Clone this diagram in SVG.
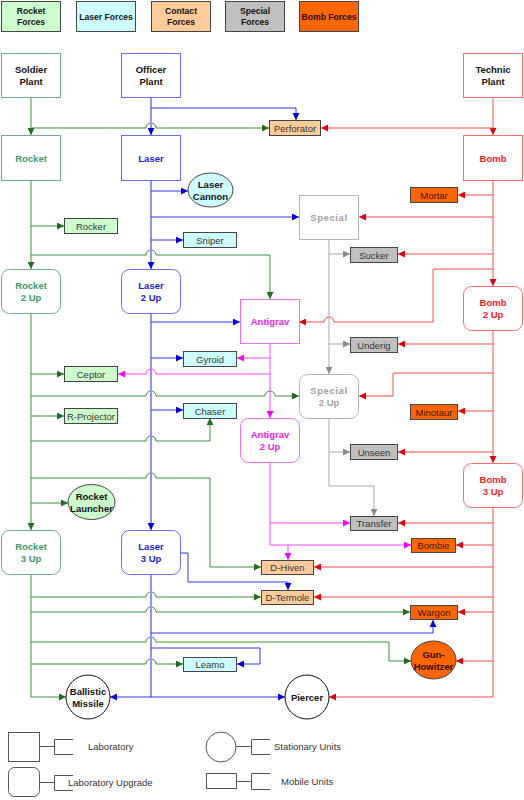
<svg xmlns="http://www.w3.org/2000/svg" width="524" height="800" viewBox="0 0 524 800">
<style>
.t{font-family:"Liberation Sans",Arial,sans-serif;font-size:9.5px;font-weight:bold;text-anchor:middle}
.s{font-family:"Liberation Sans",Arial,sans-serif;font-size:9.5px;text-anchor:middle;fill:#333}
.l{font-family:"Liberation Sans",Arial,sans-serif;font-size:9.5px;fill:#333}
.lg{font-family:"Liberation Sans",Arial,sans-serif;font-size:8.6px;font-weight:bold;text-anchor:middle;fill:#111}
.ro{fill:#fff;stroke:#6fa98e;stroke-width:1}
.la{fill:#fff;stroke:#6b6bee;stroke-width:1}
.bo{fill:#fff;stroke:#ff6b6b;stroke-width:1}
.sp{fill:#fff;stroke:#b4b4b4;stroke-width:1}
.ag{fill:#fff;stroke:#f070f0;stroke-width:1}
.tro{fill:#3a9a6a}.tla{fill:#1a1acc}.tbo{fill:#ee1c25}.tsp{fill:#a0a0a0}.tag{fill:#ee22ee}.tbk{fill:#111}
.u{stroke:#444;stroke-width:1}
.cg{fill:#ccffcc}.cc{fill:#ccffff}.co{fill:#ffcc99}.cs{fill:#c0c0c0}.cb{fill:#ff6600}
.w{fill:#fff;stroke:#111;stroke-width:1}
.k{fill:none;stroke:#555;stroke-width:1}
#connectors path{fill:none;stroke-width:1}
.g{stroke:#3d8f3d}.b{stroke:#3535ee}.bt{stroke:#9090ff;stroke-width:2!important}.r{stroke:#ff4a4a}.m{stroke:#ff44ff}.y{stroke:#a8a8a8}
</style>
<defs>
<marker id="mg" viewBox="0 0 10 10" refX="10" refY="5" markerWidth="7" markerHeight="7" markerUnits="userSpaceOnUse" orient="auto"><path d="M0,0L10,5L0,10z" fill="#1f6f1f"/></marker>
<marker id="mb" viewBox="0 0 10 10" refX="10" refY="5" markerWidth="7" markerHeight="7" markerUnits="userSpaceOnUse" orient="auto"><path d="M0,0L10,5L0,10z" fill="#0000dd"/></marker>
<marker id="mr" viewBox="0 0 10 10" refX="10" refY="5" markerWidth="7" markerHeight="7" markerUnits="userSpaceOnUse" orient="auto"><path d="M0,0L10,5L0,10z" fill="#e00010"/></marker>
<marker id="mm" viewBox="0 0 10 10" refX="10" refY="5" markerWidth="7" markerHeight="7" markerUnits="userSpaceOnUse" orient="auto"><path d="M0,0L10,5L0,10z" fill="#ff00ff"/></marker>
<marker id="mk" viewBox="0 0 10 10" refX="10" refY="5" markerWidth="7" markerHeight="7" markerUnits="userSpaceOnUse" orient="auto"><path d="M0,0L10,5L0,10z" fill="#8a8a8a"/></marker>
</defs>
<rect width="524" height="800" fill="#fff"/>

<g id="legend-top">
<rect x="1.5" y="1.5" width="59" height="30" class="u cg"/><text class="lg" x="31" y="14">Rocket</text><text class="lg" x="31" y="25">Forces</text>
<rect x="76.5" y="1.5" width="59" height="30" class="u cc"/><text class="lg" x="106" y="19.5">Laser Forces</text>
<rect x="151.5" y="1.5" width="59" height="30" class="u co"/><text class="lg" x="181" y="14">Contact</text><text class="lg" x="181" y="25">Forces</text>
<rect x="225.5" y="1.5" width="59" height="30" class="u cs"/><text class="lg" x="255" y="14">Special</text><text class="lg" x="255" y="25">Forces</text>
<rect x="299.5" y="1.5" width="59" height="30" class="u cb"/><text class="lg" x="329" y="19.5" style="fill:#2a0a00">Bomb Forces</text>
</g>

<g id="connectors">
<!-- green -->
<path class="g" d="M31,98V135" marker-end="url(#mg)"/>
<path class="g" d="M31,128H146a5,5 0 0 1 10,0H269" marker-end="url(#mg)"/>
<path class="g" d="M31,181V269" marker-end="url(#mg)"/>
<path class="g" d="M31,226H64" marker-end="url(#mg)"/>
<path class="g" d="M31,255H146a5,5 0 0 1 10,0H270V299" marker-end="url(#mg)"/>
<path class="g" d="M31,314V530" marker-end="url(#mg)"/>
<path class="g" d="M31,374H64" marker-end="url(#mg)"/>
<path class="g" d="M31,396H146a5,5 0 0 1 10,0H265a5,5 0 0 1 10,0H299" marker-end="url(#mg)"/>
<path class="g" d="M31,416H64" marker-end="url(#mg)"/>
<path class="g" d="M31,441H146a5,5 0 0 1 10,0H210V418" marker-end="url(#mg)"/>
<path class="g" d="M31,478H146a5,5 0 0 1 10,0H210V567H261" marker-end="url(#mg)"/>
<path class="g" d="M31,503H68" marker-end="url(#mg)"/>
<path class="g" d="M31,575V697H66" marker-end="url(#mg)"/>
<path class="g" d="M31,597H146a5,5 0 0 1 10,0H261" marker-end="url(#mg)"/>
<path class="g" d="M31,612H146a5,5 0 0 1 10,0H410" marker-end="url(#mg)"/>
<path class="g" d="M31,642H146a5,5 0 0 1 10,0H389V661H411" marker-end="url(#mg)"/>
<path class="g" d="M31,664H146a5,5 0 0 1 10,0H183" marker-end="url(#mg)"/>
<!-- blue -->
<path class="b bt" d="M151,98V135" marker-end="url(#mb)"/>
<path class="b bt" d="M151,181V269" marker-end="url(#mb)"/>
<path class="b bt" d="M151,314V530" marker-end="url(#mb)"/>
<path class="b bt" d="M151,575V697"/>
<path class="b" d="M151,108H296V120" marker-end="url(#mb)"/>
<path class="b" d="M151,191H188" marker-end="url(#mb)"/>
<path class="b" d="M151,217H299" marker-end="url(#mb)"/>
<path class="b" d="M151,240H183" marker-end="url(#mb)"/>
<path class="b" d="M151,322H240" marker-end="url(#mb)"/>
<path class="b" d="M151,358H183" marker-end="url(#mb)"/>
<path class="b" d="M151,410H183" marker-end="url(#mb)"/>
<path class="b" d="M181,553H188V582H288V590" marker-end="url(#mb)"/>
<path class="b" d="M151,633H433V620" marker-end="url(#mb)"/>
<path class="b" d="M151,648H260V664H237" marker-end="url(#mb)"/>
<path class="b" d="M151,697H110" marker-end="url(#mb)"/>
<path class="b" d="M151,697H285" marker-end="url(#mb)"/>
<!-- red -->
<path class="r" d="M493,98V135" marker-end="url(#mr)"/>
<path class="r" d="M493,128H321" marker-end="url(#mr)"/>
<path class="r" d="M493,181V286" marker-end="url(#mr)"/>
<path class="r" d="M493,195H458" marker-end="url(#mr)"/>
<path class="r" d="M493,217H359" marker-end="url(#mr)"/>
<path class="r" d="M493,254H398" marker-end="url(#mr)"/>
<path class="r" d="M493,269H433V322H334a5,5 0 0 0 -10,0H299" marker-end="url(#mr)"/>
<path class="r" d="M493,330V463" marker-end="url(#mr)"/>
<path class="r" d="M493,344H398" marker-end="url(#mr)"/>
<path class="r" d="M493,373H393V396H359" marker-end="url(#mr)"/>
<path class="r" d="M493,411H458" marker-end="url(#mr)"/>
<path class="r" d="M493,452H398" marker-end="url(#mr)"/>
<path class="r" d="M493,508V697H329" marker-end="url(#mr)"/>
<path class="r" d="M493,523H398" marker-end="url(#mr)"/>
<path class="r" d="M493,545H456" marker-end="url(#mr)"/>
<path class="r" d="M493,567H314" marker-end="url(#mr)"/>
<path class="r" d="M493,597H314" marker-end="url(#mr)"/>
<path class="r" d="M493,612H458" marker-end="url(#mr)"/>
<path class="r" d="M493,661H456" marker-end="url(#mr)"/>
<!-- gray -->
<path class="y" d="M329,240V374" marker-end="url(#mk)"/>
<path class="y" d="M329,254H350" marker-end="url(#mk)"/>
<path class="y" d="M329,344H350" marker-end="url(#mk)"/>
<path class="y" d="M329,418V486H374V516" marker-end="url(#mk)"/>
<path class="y" d="M329,452H350" marker-end="url(#mk)"/>
<!-- magenta -->
<path class="m" d="M270,344V418" marker-end="url(#mm)"/>
<path class="m" d="M270,358H237" marker-end="url(#mm)"/>
<path class="m" d="M270,374H156a5,5 0 0 0 -10,0H118" marker-end="url(#mm)"/>
<path class="m" d="M270,463V545H411" marker-end="url(#mm)"/>
<path class="m" d="M270,523H350" marker-end="url(#mm)"/>
<path class="m" d="M288,545V560" marker-end="url(#mm)"/>
</g>

<g id="soldier-plant"><rect x="1.5" y="53.5" width="59" height="44" class="ro"/><text class="t tbk" x="31" y="73">Soldier</text><text class="t tbk" x="31" y="85">Plant</text></g>
<g id="officer-plant"><rect x="121.5" y="53.5" width="59" height="44" class="la"/><text class="t tbk" x="151" y="73">Officer</text><text class="t tbk" x="151" y="85">Plant</text></g>
<g id="technic-plant"><rect x="463.5" y="53.5" width="59" height="44" class="bo"/><text class="t tbk" x="493" y="73">Technic</text><text class="t tbk" x="493" y="85">Plant</text></g>

<g id="rocket"><rect x="1.5" y="135.5" width="59" height="45" class="ro"/><text class="t tro" x="31" y="161.5">Rocket</text></g>
<g id="laser"><rect x="121.5" y="135.5" width="59" height="45" class="la"/><text class="t tla" x="151" y="161.5">Laser</text></g>
<g id="bomb"><rect x="463.5" y="135.5" width="59" height="45" class="bo"/><text class="t tbo" x="493" y="161.5">Bomb</text></g>

<g id="perforator"><rect x="269.5" y="120.5" width="51" height="15" class="u co"/><text class="s" x="295" y="131.5">Perforator</text></g>
<g id="laser-cannon"><ellipse cx="210.5" cy="190" rx="22.5" ry="17" class="u cc"/><text class="t tbk" x="210.5" y="187.5">Laser</text><text class="t tbk" x="210.5" y="199.5">Cannon</text></g>
<g id="mortar"><rect x="410.5" y="187.5" width="47" height="15" class="u cb"/><text class="s" x="434" y="198.5" style="fill:#3a1200">Mortar</text></g>

<g id="special"><rect x="299.5" y="195.5" width="59" height="44" class="sp"/><text class="t tsp" x="329" y="221" style="letter-spacing:0.6px">Special</text></g>
<g id="rocker"><rect x="64.5" y="218.5" width="53" height="15" class="u cg"/><text class="s" x="91" y="229.5">Rocker</text></g>
<g id="sniper"><rect x="183.5" y="232.5" width="53" height="15" class="u cc"/><text class="s" x="210" y="243.5">Sniper</text></g>
<g id="sucker"><rect x="350.5" y="247.5" width="47" height="15" class="u cs"/><text class="s" x="374" y="258.5">Sucker</text></g>

<g id="rocket-2up"><rect x="1.5" y="269.5" width="59" height="44" rx="8" class="ro"/><text class="t tro" x="31" y="289">Rocket</text><text class="t tro" x="31" y="301">2 Up</text></g>
<g id="laser-2up"><rect x="121.5" y="269.5" width="59" height="44" rx="8" class="la"/><text class="t tla" x="151" y="289">Laser</text><text class="t tla" x="151" y="301">2 Up</text></g>
<g id="bomb-2up"><rect x="463.5" y="286.5" width="59" height="44" rx="8" class="bo"/><text class="t tbo" x="493" y="305.5">Bomb</text><text class="t tbo" x="493" y="317.5">2 Up</text></g>
<g id="antigrav"><rect x="240.5" y="299.5" width="59" height="44" class="ag"/><text class="t tag" x="270" y="325">Antigrav</text></g>

<g id="underig"><rect x="350.5" y="337.5" width="47" height="15" class="u cs"/><text class="s" x="374" y="348.5">Underig</text></g>
<g id="gyroid"><rect x="183.5" y="351.5" width="53" height="15" class="u cc"/><text class="s" x="210" y="362.5">Gyroid</text></g>
<g id="ceptor"><rect x="64.5" y="366.5" width="53" height="15" class="u cg"/><text class="s" x="91" y="377.5">Ceptor</text></g>
<g id="special-2up"><rect x="299.5" y="374.5" width="59" height="44" rx="8" class="sp"/><text class="t tsp" x="329" y="393.5" style="letter-spacing:0.6px">Special</text><text class="t tsp" x="329" y="405.5">2 Up</text></g>
<g id="chaser"><rect x="183.5" y="403.5" width="53" height="15" class="u cc"/><text class="s" x="210" y="414.5">Chaser</text></g>
<g id="minotaur"><rect x="410.5" y="404.5" width="47" height="15" class="u cb"/><text class="s" x="434" y="415.5" style="fill:#3a1200">Minotaur</text></g>
<g id="r-projector"><rect x="64.5" y="408.5" width="53" height="15" class="u cg"/><text class="s" x="91" y="419.5">R-Projector</text></g>
<g id="antigrav-2up"><rect x="240.5" y="418.5" width="59" height="44" rx="8" class="ag"/><text class="t tag" x="270" y="438">Antigrav</text><text class="t tag" x="270" y="450">2 Up</text></g>
<g id="unseen"><rect x="350.5" y="444.5" width="47" height="15" class="u cs"/><text class="s" x="374" y="455.5">Unseen</text></g>
<g id="bomb-3up"><rect x="463.5" y="463.5" width="59" height="44" rx="8" class="bo"/><text class="t tbo" x="493" y="482.5">Bomb</text><text class="t tbo" x="493" y="494.5">3 Up</text></g>
<g id="rocket-launcher"><ellipse cx="91.5" cy="502" rx="23.5" ry="17.5" class="u cg"/><text class="t tbk" x="91.5" y="499.5">Rocket</text><text class="t tbk" x="91.5" y="511.5">Launcher</text></g>
<g id="transfer"><rect x="350.5" y="516.5" width="47" height="14" class="u cs"/><text class="s" x="374" y="527">Transfer</text></g>

<g id="rocket-3up"><rect x="1.5" y="530.5" width="59" height="44" rx="8" class="ro"/><text class="t tro" x="31" y="550">Rocket</text><text class="t tro" x="31" y="562">3 Up</text></g>
<g id="laser-3up"><rect x="121.5" y="530.5" width="59" height="44" rx="8" class="la"/><text class="t tla" x="151" y="550">Laser</text><text class="t tla" x="151" y="562">3 Up</text></g>
<g id="bombie"><rect x="411.5" y="538.5" width="44" height="14" class="u cb"/><text class="s" x="433.5" y="549" style="fill:#3a1200">Bombie</text></g>
<g id="d-hiven"><rect x="261.5" y="560.5" width="52" height="14" class="u co"/><text class="s" x="287.5" y="571">D-Hiven</text></g>
<g id="d-termole"><rect x="261.5" y="590.5" width="52" height="14" class="u co"/><text class="s" x="287.5" y="601">D-Termole</text></g>
<g id="wargon"><rect x="410.5" y="605.5" width="47" height="14" class="u cb"/><text class="s" x="434" y="616" style="fill:#3a1200">Wargon</text></g>
<g id="gun-howitzer"><ellipse cx="433.5" cy="660" rx="22.5" ry="19" class="u cb"/><text class="t" x="433.5" y="657.5" style="fill:#2a0a00">Gun-</text><text class="t" x="433.5" y="669.5" style="fill:#2a0a00">Howitzer</text></g>
<g id="leamo"><rect x="183.5" y="657.5" width="53" height="14" class="u cc"/><text class="s" x="210" y="668">Leamo</text></g>
<g id="ballistic-missile"><circle cx="88" cy="697" r="22" class="w"/><text class="t tbk" x="88" y="694.5">Ballistic</text><text class="t tbk" x="88" y="706.5">Missile</text></g>
<g id="piercer"><circle cx="307" cy="697" r="22" class="w"/><text class="t tbk" x="307" y="700.5">Piercer</text></g>

<g id="legend-bottom">
<rect x="8.5" y="732.5" width="31" height="29" class="k"/>
<path class="k" d="M39.5,746.5H54.5M73,739.5H54.5V754.5H73"/>
<text class="l" x="88" y="750">Laboratory</text>
<rect x="8.5" y="767.5" width="31" height="29" rx="6" class="k"/>
<path class="k" d="M39.5,782.5H54.5M73,775.5H54.5V790.5H73"/>
<text class="l" x="68" y="785.5">Laboratory Upgrade</text>
<circle cx="221" cy="747" r="15" class="k"/>
<path class="k" d="M236,746.5H251.5M270,739.5H251.5V754.5H270"/>
<text class="l" x="274" y="750">Stationary Units</text>
<rect x="206.5" y="773.5" width="30" height="15" class="k"/>
<path class="k" d="M236.5,781.5H251.5M270,773.5H251.5V789.5H270"/>
<text class="l" x="281" y="785">Mobile Units</text>
</g>
</svg>
